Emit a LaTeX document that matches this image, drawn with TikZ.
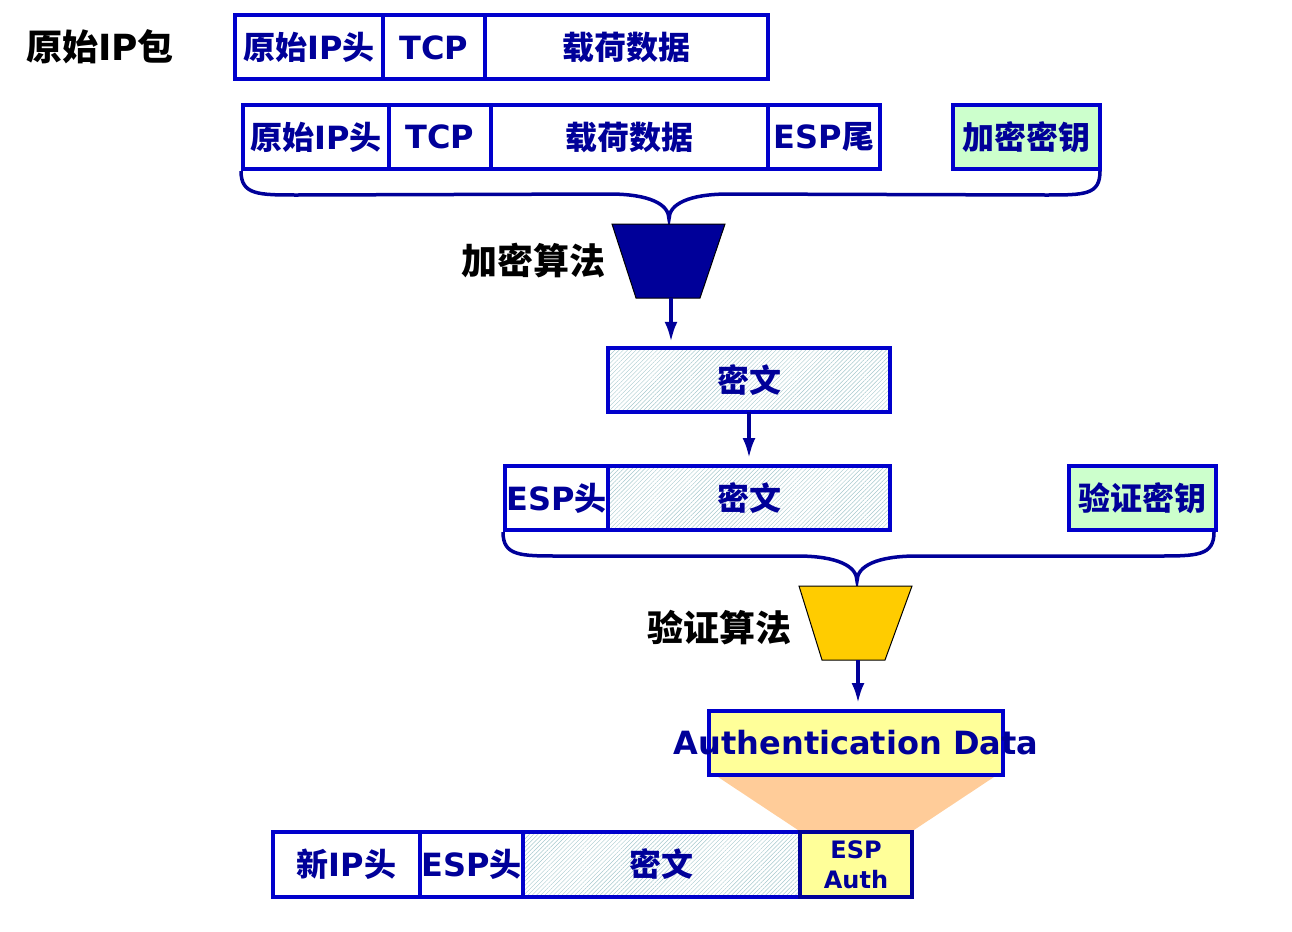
\documentclass[tikz,border=0pt]{standalone}
\usepackage{fontspec}
\setmainfont{DejaVu Sans}
\newfontfamily\cjk{Noto Sans CJK SC}
\usetikzlibrary{arrows.meta,patterns.meta,backgrounds}

\definecolor{boxblue}{RGB}{0,0,204}
\definecolor{navy}{RGB}{0,0,153}
\definecolor{keygreen}{RGB}{204,255,204}
\definecolor{authyellow}{RGB}{255,255,153}
\definecolor{algyellow}{RGB}{255,204,0}
\definecolor{peach}{RGB}{255,204,153}
\definecolor{hatch}{RGB}{165,200,205}

\newcommand{\zhtxt}[1]{{\cjk\bfseries #1}}

\tikzset{
	cell/.style={draw=boxblue, line width=4pt, fill=white, minimum height=64pt,
		inner sep=0pt, text=navy, font=\bfseries\fontsize{32}{36}\selectfont},
	crypt/.style={cell, pattern={Lines[angle=45,distance=3pt,line width=0.45pt]}, pattern color=hatch},
	keybox/.style={cell, fill=keygreen},
	lbl/.style={inner sep=0pt, text=black, font=\bfseries\fontsize{36}{40}\selectfont},
	brace/.style={draw=navy, line width=3.5pt},
	arr/.style={draw=navy, line width=3.5pt, -{Latex[length=20pt,width=13pt]}, shorten >=6pt},
}

\begin{document}
\begin{tikzpicture}[x=1pt,y=-1pt]
		\useasboundingbox (0,0) rectangle (1292,931);
		
		% original packet
		\node[lbl] (title) at (100,47) {\zhtxt{原始}IP\zhtxt{包}};
		\node[cell, minimum width=148pt] (r1a) at (309,47.5) {\zhtxt{原始}IP\zhtxt{头}};
		\node[cell, minimum width=102pt] (r1b) at (434,47.5) {TCP};
		\node[cell, minimum width=283pt] (r1c) at (626.5,47.5) {\zhtxt{载荷数据}};
		
		% packet with trailer and key
		\node[cell, minimum width=146pt] (r2a) at (316,137) {\zhtxt{原始}IP\zhtxt{头}};
		\node[cell, minimum width=102pt] (r2b) at (440,137) {TCP};
		\node[cell, minimum width=277pt] (r2c) at (629.5,137) {\zhtxt{载荷数据}};
		\node[cell, minimum width=112pt] (r2d) at (824,137) {ESP\zhtxt{尾}};
		\node[keybox, minimum width=147pt] (ekey) at (1026.5,137) {\zhtxt{加密密钥}};
		
		% encryption
		\coordinate (encTip) at (669,219);
		\draw[brace] (r2a.south west) .. controls +(0,24) and +(-40,0) .. ++(57,24)
			-- ([xshift=-60pt,yshift=25pt]encTip) .. controls +(40,0) and +(0,-15) .. (encTip)
			.. controls +(0,-15) and +(-40,0) .. ([xshift=60pt,yshift=25pt]encTip)
			-- ([xshift=-57pt,yshift=-24pt]ekey.south east) .. controls +(40,0) and +(0,24) .. ([xshift=-2pt]ekey.south east);
		\draw[fill=navy, line width=1pt] (612,224) -- (725,224) -- (700,298) -- (636,298) -- cycle;
		\coordinate (encBot) at (671,298);
		\node[lbl] (enclbl) at (533,261) {\zhtxt{加密算法}};
		
		\node[crypt, minimum width=282pt] (ct1) at (749,380) {\zhtxt{密文}};
		\draw[arr] (encBot) -- (encBot |- ct1.north);
		
		% ESP header + ciphertext
		\node[cell, minimum width=103pt] (esp) at (556.5,498) {ESP\zhtxt{头}};
		\node[crypt, minimum width=282pt] (ct2) at (749,498) {\zhtxt{密文}};
		\node[keybox, minimum width=147pt] (vkey) at (1142.5,498) {\zhtxt{验证密钥}};
		\draw[arr] (ct1.south) -- (ct2.north);
		
		% authentication
		\coordinate (authTip) at (857,581);
		\draw[brace] (esp.south west) .. controls +(0,24) and +(-40,0) .. ++(57,24)
			-- ([xshift=-60pt,yshift=25pt]authTip) .. controls +(40,0) and +(0,-15) .. (authTip)
			.. controls +(0,-15) and +(-40,0) .. ([xshift=60pt,yshift=25pt]authTip)
			-- ([xshift=-61pt,yshift=-24pt]vkey.south east) .. controls +(40,0) and +(0,24) .. ([xshift=-4pt]vkey.south east);
		\draw[fill=algyellow, line width=1pt] (799,586) -- (912,586) -- (885,660) -- (822,660) -- cycle;
		\coordinate (authBot) at (858,660);
		\node[lbl] (authlbl) at (719,628) {\zhtxt{验证算法}};
		
		\node[cell, fill=authyellow, minimum width=294pt] (auth) at (856,743) {\makebox[0pt]{Authentication Data}};
		\draw[arr] (authBot) -- (authBot |- auth.north);
		
		% new packet
		\node[cell, minimum width=147pt, minimum height=65pt] (n1) at (346.5,864.5) {\zhtxt{新}IP\zhtxt{头}};
		\node[cell, minimum width=103pt, minimum height=65pt] (n2) at (471.5,864.5) {ESP\zhtxt{头}};
		\node[crypt, minimum width=277pt, minimum height=65pt] (n3) at (661.5,864.5) {\zhtxt{密文}};
		\node[cell, draw=navy, fill=authyellow, minimum width=112pt, minimum height=65pt, align=center,
			font=\bfseries\fontsize{24}{30}\selectfont] (n4) at (856,864.5) {ESP\\Auth};
		
		\begin{scope}[on background layer]
		\fill[peach] ([xshift=11pt]auth.south west) -- ([xshift=-11pt]auth.south east) -- (n4.north east) -- (n4.north west) -- cycle;
		\end{scope}
		\end{tikzpicture}
\end{document}
